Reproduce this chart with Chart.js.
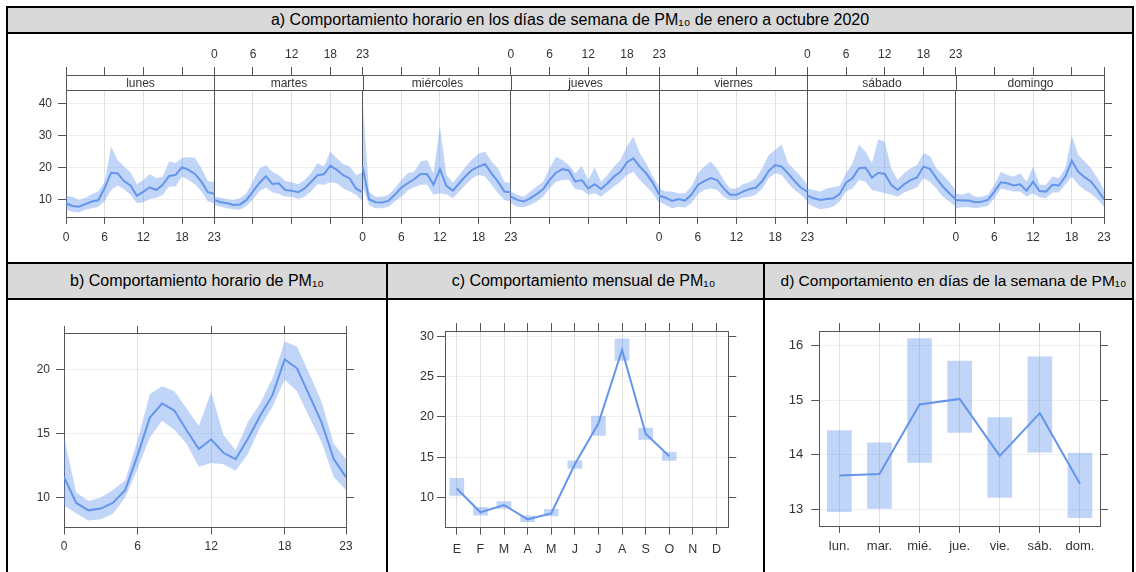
<!DOCTYPE html>
<html>
<head>
<meta charset="utf-8">
<script src="https://cdn.jsdelivr.net/npm/chart.js"></script>
<style>
  html, body { margin: 0; padding: 0; background: #fff; }
  body { width: 1136px; height: 572px; position: relative; overflow: hidden;
         font-family: "Liberation Sans", Arial, sans-serif; }
  .box { position: absolute; box-sizing: border-box; border: 2px solid #000; }
  .bar { background: #d9d9d9; display: flex; align-items: center; justify-content: center;
         font-size: 16px; color: #000; white-space: nowrap; }
  canvas { position: absolute; }
</style>
</head>
<body>
<div class="box bar" style="left:6px;top:6px;width:1128px;height:28px;">a) Comportamiento horario en los días de semana de PM₁₀ de enero a octubre 2020</div>
<div class="box" style="left:6px;top:32px;width:1128px;height:232px;"></div>
<div class="box bar" style="left:6px;top:262px;width:382px;height:38px;">b) Comportamiento horario de PM₁₀</div>
<div class="box bar" style="left:386px;top:262px;width:379px;height:38px;padding-left:16px;">c) Comportamiento mensual de PM₁₀</div>
<div class="box bar" style="left:763px;top:262px;width:371px;height:38px;padding-left:10px;font-size:15.5px;">d) Comportamiento en días de la semana de PM₁₀</div>
<div class="box" style="left:6px;top:298px;width:382px;height:290px;"></div>
<div class="box" style="left:386px;top:298px;width:379px;height:290px;"></div>
<div class="box" style="left:763px;top:298px;width:371px;height:290px;"></div>

<canvas id="cA" width="1124" height="227" style="left:8px;top:34px;"></canvas>
<canvas id="cB" width="378" height="272" style="left:8px;top:300px;"></canvas>
<canvas id="cC" width="374" height="272" style="left:388px;top:300px;"></canvas>
<canvas id="cD" width="367" height="272" style="left:765px;top:300px;"></canvas>

<script>
// a) hourly profile for each weekday (mean and confidence band)
const days = ['lunes', 'martes', 'miércoles', 'jueves', 'viernes', 'sábado', 'domingo'];
const weekMean = [
  [8.75, 7.9, 7.7, 8.5, 9.3, 9.7, 13.5, 18.3, 18.1, 15.7, 14.3, 11.1, 12.4, 13.75, 12.9, 14.5, 17.3, 17.6, 20.0, 19.2, 17.9, 15.5, 12.2, 11.7],
  [9.8, 9.1, 8.75, 8.2, 8.4, 9.8, 12.5, 15.1, 17.2, 14.8, 15.0, 12.9, 12.7, 12.2, 13.4, 15.4, 17.5, 17.8, 20.5, 19.2, 17.5, 16.5, 13.3, 12.2],
  [20.2, 10.0, 9.1, 9.0, 9.5, 11.4, 13.6, 15.0, 16.25, 17.9, 17.9, 14.5, 19.4, 14.2, 12.7, 15.0, 17.3, 19.2, 20.2, 21.0, 18.1, 15.5, 12.4, 12.2],
  [10.8, 9.8, 9.3, 10.3, 11.6, 13.1, 16.0, 18.3, 19.4, 19.0, 15.5, 16.0, 13.4, 14.7, 13.2, 15.0, 17.1, 18.6, 21.5, 22.8, 20.2, 18.1, 15.2, 11.4],
  [11.1, 10.5, 9.5, 10.1, 9.6, 11.4, 14.5, 15.7, 16.6, 16.0, 13.4, 11.4, 11.4, 12.4, 13.2, 13.6, 15.7, 18.9, 20.7, 20.2, 18.1, 15.7, 13.6, 12.4],
  [11.1, 10.3, 9.8, 10.1, 10.3, 11.6, 15.2, 16.6, 19.7, 19.9, 16.8, 18.3, 17.9, 14.5, 12.9, 14.7, 16.0, 16.8, 20.2, 19.5, 16.6, 14.0, 11.9, 10.0],
  [9.8, 9.6, 9.6, 9.1, 9.2, 9.8, 12.4, 15.3, 15.0, 14.3, 14.7, 12.7, 15.5, 12.6, 12.4, 14.5, 14.3, 17.1, 22.0, 18.6, 16.9, 15.5, 12.9, 10.0]
];
const weekUpper = [
  [11.1, 10.8, 9.8, 10.5, 11.6, 12.4, 15.5, 26.5, 22.3, 20.2, 18.4, 14.7, 16.0, 17.9, 16.6, 17.1, 21.8, 21.3, 23.0, 23.1, 23.0, 19.7, 15.7, 15.3],
  [10.8, 10.5, 10.0, 9.8, 10.3, 11.9, 15.8, 19.5, 20.7, 18.6, 17.6, 15.7, 15.3, 14.7, 16.0, 18.1, 21.25, 20.2, 24.9, 22.8, 21.0, 20.2, 17.6, 18.4],
  [41.0, 12.4, 10.8, 10.8, 11.4, 13.4, 16.0, 18.1, 18.6, 21.8, 22.3, 18.1, 32.7, 17.6, 15.2, 17.6, 20.2, 22.5, 24.2, 24.9, 21.8, 19.7, 15.5, 15.0],
  [12.4, 11.4, 10.8, 12.4, 14.0, 15.5, 19.7, 23.3, 22.3, 20.7, 18.1, 20.4, 16.0, 19.9, 15.5, 17.6, 20.2, 22.3, 26.5, 29.6, 24.4, 21.25, 17.1, 14.0],
  [13.4, 12.4, 12.4, 11.9, 11.9, 14.0, 18.1, 20.2, 21.8, 19.5, 16.0, 13.4, 13.4, 14.7, 15.3, 16.6, 19.7, 23.9, 25.4, 27.0, 21.25, 19.2, 17.1, 14.5],
  [13.4, 12.9, 12.4, 13.4, 13.75, 14.2, 18.3, 21.25, 27.0, 24.9, 21.25, 28.75, 28.0, 19.7, 16.0, 18.1, 19.7, 20.7, 24.4, 23.5, 19.7, 17.6, 15.5, 12.9],
  [11.9, 11.4, 12.1, 10.8, 10.8, 11.4, 14.5, 18.6, 17.6, 17.1, 18.1, 15.5, 20.2, 14.5, 14.5, 17.1, 16.6, 19.7, 29.8, 23.9, 21.8, 19.7, 16.6, 12.9]
];
const weekLower = [
  [6.7, 6.1, 5.9, 6.7, 7.2, 7.7, 9.5, 12.9, 14.3, 13.1, 11.4, 8.75, 9.1, 10.1, 10.5, 11.4, 14.0, 14.0, 17.1, 16.0, 14.7, 12.4, 9.3, 8.75],
  [8.2, 7.7, 7.2, 6.9, 6.7, 7.9, 10.0, 12.4, 13.7, 12.2, 11.7, 10.8, 10.8, 10.1, 10.8, 12.4, 14.7, 14.5, 15.3, 15.0, 13.4, 12.4, 11.4, 9.3],
  [14.0, 8.2, 7.2, 7.2, 7.7, 9.3, 10.8, 12.7, 13.75, 14.5, 14.5, 11.4, 11.9, 11.6, 10.3, 12.4, 14.5, 16.6, 17.6, 17.1, 14.5, 11.9, 9.8, 9.3],
  [8.75, 7.7, 7.5, 8.2, 9.3, 10.8, 13.4, 15.5, 16.0, 16.0, 13.1, 12.9, 11.4, 11.9, 10.8, 12.4, 14.0, 15.5, 17.6, 18.6, 16.0, 14.0, 11.9, 8.75],
  [9.3, 8.2, 7.2, 7.7, 7.4, 8.75, 11.6, 12.9, 13.4, 12.9, 10.8, 9.8, 9.8, 10.5, 10.8, 11.4, 13.4, 16.6, 18.1, 17.6, 15.0, 12.9, 11.4, 9.3],
  [8.75, 7.7, 6.9, 7.2, 7.7, 9.3, 12.4, 13.4, 16.0, 15.5, 12.9, 12.4, 11.9, 11.4, 10.8, 12.1, 12.9, 13.75, 16.6, 15.5, 13.4, 10.8, 9.3, 7.7],
  [7.2, 7.5, 7.5, 7.2, 7.5, 7.9, 10.3, 13.4, 12.9, 12.4, 12.4, 10.8, 11.9, 10.6, 10.3, 12.1, 12.1, 14.5, 17.1, 14.5, 12.9, 11.7, 10.0, 7.7]
];
const hourTicks = [0, 6, 12, 18, 23];
const weekYTicks = [10, 20, 30, 40];

// b) hourly profile
const hourMean  = [11.6, 9.58, 9.0, 9.14, 9.6, 10.6, 13.3, 16.25, 17.35, 16.8, 15.26, 13.8, 14.55, 13.5, 13.0, 14.6, 16.4, 18.0, 20.8, 20.1, 18.0, 15.9, 13.0, 11.6];
const hourUpper = [14.7, 10.4, 9.74, 10.0, 10.6, 11.35, 14.5, 18.1, 18.7, 18.3, 16.95, 15.6, 18.25, 14.9, 13.7, 15.9, 17.35, 19.3, 22.2, 21.8, 19.7, 17.5, 14.2, 13.0];
const hourLower = [9.4, 8.75, 8.2, 8.3, 8.75, 10.0, 12.3, 14.7, 16.0, 15.3, 14.2, 12.4, 12.7, 12.6, 12.1, 13.4, 15.5, 17.1, 19.2, 18.3, 16.3, 14.35, 11.6, 10.6];
const hourYTicks = [10, 15, 20];

// c) monthly
const months = ['E', 'F', 'M', 'A', 'M', 'J', 'J', 'A', 'S', 'O', 'N', 'D'];
const monthMean  = [11.1, 8.14, 9.05, 7.27, 8.0, 14.1, 19.2, 28.3, 17.9, 15.1, null, null];
const monthLower = [10.25, 7.8, 8.64, 6.98, 7.7, 13.6, 17.7, 27.0, 17.2, 14.6, null, null];
const monthUpper = [12.35, 8.76, 9.46, 7.7, 8.5, 14.55, 20.1, 29.7, 18.6, 15.6, null, null];
const monthYTicks = [10, 15, 20, 25, 30];

// d) day of week
const dayShort = ['lun.', 'mar.', 'mié.', 'jue.', 'vie.', 'sáb.', 'dom.'];
const dayMean  = [13.62, 13.65, 14.92, 15.02, 13.98, 14.76, 13.47];
const dayLower = [12.96, 13.02, 13.86, 14.41, 13.22, 14.05, 12.85];
const dayUpper = [14.44, 14.22, 16.12, 15.71, 14.68, 15.79, 14.03];
const dayYTicks = [13, 14, 15, 16];

const BLUE = '#6495ed';
const BAND = 'rgba(100,149,237,0.4)';
const AXIS = '#555';
const GRIDV = 'rgba(0,0,0,0.12)';
const GRIDH = 'rgba(0,0,0,0.06)';
const FONT = '"Liberation Sans", Arial, sans-serif';

Chart.defaults.font.family = FONT;
Chart.defaults.font.size = 12;
Chart.defaults.color = '#333';

const setTicks = vals => s => { s.ticks = vals.map(v => ({ value: v })); };

function yScales(min, max, vals, leftW, rightW, pad, size) {
  return {
    y: {
      type: 'linear', position: 'left', min: min, max: max,
      afterBuildTicks: setTicks(vals),
      afterFit: s => { s.width = leftW; },
      grid: { color: GRIDH, tickColor: AXIS, tickLength: 8 },
      border: { color: AXIS },
      ticks: { padding: pad, font: { size: size } }
    },
    y2: {
      type: 'linear', position: 'right', min: min, max: max,
      afterBuildTicks: setTicks(vals),
      afterFit: s => { s.width = rightW; },
      grid: { drawOnChartArea: false, tickColor: AXIS, tickLength: 8 },
      border: { color: AXIS },
      ticks: { callback: () => '' }
    }
  };
}

const baseOpts = {
  responsive: false,
  animation: false,
  layout: { padding: 0 },
  plugins: { legend: { display: false }, tooltip: { enabled: false } }
};

// ---------- a) ----------
const weekTicks = [];
days.forEach((d, i) => hourTicks.slice(0, 4).forEach(h => weekTicks.push(i * 23 + h)));
weekTicks.push(days.length * 23);

function bottomLabel(v) {
  const k = v / 23;
  if (Number.isInteger(k)) return k % 2 === 0 ? (k < 7 ? '0' : '') : '23';
  const d = Math.floor(k);
  return d % 2 === 0 ? String(v - d * 23) : '';
}
function topLabel(v) {
  const k = v / 23;
  if (Number.isInteger(k)) {
    if (k % 2 === 1 && k < 7) return '0';
    if (k % 2 === 0 && k > 0) return '23';
    return '';
  }
  const d = Math.floor(k);
  return d % 2 === 1 ? String(v - d * 23) : '';
}

const weekSets = [];
days.forEach((name, d) => {
  const pts = arr => arr.map((v, h) => ({ x: d * 23 + h, y: v }));
  weekSets.push({ data: pts(weekLower[d]), borderWidth: 0, pointRadius: 0, fill: false });
  weekSets.push({ data: pts(weekUpper[d]), borderWidth: 0, pointRadius: 0, fill: '-1', backgroundColor: BAND });
  weekSets.push({ data: pts(weekMean[d]), borderColor: BLUE, borderWidth: 2, pointRadius: 0, fill: false });
});

const stripPlugin = {
  id: 'strips',
  afterDraw(chart) {
    const { ctx, chartArea: a } = chart;
    const x = chart.scales.x;
    const h = 15;
    ctx.save();
    ctx.font = '12px ' + FONT;
    ctx.textAlign = 'center';
    ctx.textBaseline = 'middle';
    ctx.lineWidth = 1;
    days.forEach((name, d) => {
      const x0 = Math.round(x.getPixelForValue(d * 23)) + 0.5;
      const x1 = Math.round(x.getPixelForValue(d * 23 + 23)) + 0.5;
      const y0 = Math.round(a.top) + 0.5;
      ctx.fillStyle = '#fff';
      ctx.fillRect(x0, y0, x1 - x0, h);
      ctx.strokeStyle = AXIS;
      ctx.strokeRect(x0, y0, x1 - x0, h);
      ctx.fillStyle = '#333';
      ctx.fillText(name, (x0 + x1) / 2, y0 + h / 2 + 0.5);
    });
    ctx.restore();
  }
};

new Chart(document.getElementById('cA'), {
  type: 'line',
  data: { datasets: weekSets },
  options: Object.assign({}, baseOpts, {
    scales: Object.assign({
      x: {
        type: 'linear', position: 'bottom', min: 0, max: 161,
        afterBuildTicks: setTicks(weekTicks),
        afterFit: s => { s.height = 44; },
        grid: { color: c => (c.tick && c.tick.value % 23 === 0) ? AXIS : GRIDV, tickColor: AXIS, tickLength: 7 },
        border: { color: AXIS },
        ticks: { autoSkip: false, maxRotation: 0, padding: 6, callback: v => bottomLabel(v) }
      },
      x2: {
        type: 'linear', position: 'top', min: 0, max: 161,
        afterBuildTicks: setTicks(weekTicks),
        afterFit: s => { s.height = 41; },
        grid: { drawOnChartArea: false, tickColor: AXIS, tickLength: 8 },
        border: { color: AXIS },
        ticks: { autoSkip: false, maxRotation: 0, padding: 5, callback: v => topLabel(v) }
      }
    }, yScales(4.47, 48.8, weekYTicks, 58, 28, 6, 12))
  }),
  plugins: [stripPlugin]
});

// ---------- b) ----------
const hourPts = arr => arr.map((v, h) => ({ x: h, y: v }));
new Chart(document.getElementById('cB'), {
  type: 'line',
  data: {
    datasets: [
      { data: hourPts(hourLower), borderWidth: 0, pointRadius: 0, fill: false },
      { data: hourPts(hourUpper), borderWidth: 0, pointRadius: 0, fill: '-1', backgroundColor: BAND },
      { data: hourPts(hourMean), borderColor: BLUE, borderWidth: 2, pointRadius: 0, fill: false }
    ]
  },
  options: Object.assign({}, baseOpts, {
    scales: Object.assign({
      x: {
        type: 'linear', position: 'bottom', min: 0, max: 23,
        afterBuildTicks: setTicks(hourTicks),
        afterFit: s => { s.height = 44.5; },
        grid: { color: GRIDV, tickColor: AXIS, tickLength: 7 },
        border: { color: AXIS },
        ticks: { autoSkip: false, maxRotation: 0, padding: 5 }
      },
      x2: {
        type: 'linear', position: 'top', min: 0, max: 23,
        afterBuildTicks: setTicks(hourTicks),
        afterFit: s => { s.height = 33; },
        grid: { drawOnChartArea: false, tickColor: AXIS, tickLength: 7 },
        border: { color: AXIS },
        ticks: { callback: () => '' }
      }
    }, yScales(7.66, 22.86, hourYTicks, 56, 40, 6, 12))
  })
});

// ---------- c) and d) ----------
function catChart(id, labels, lower, upper, mean, yMin, yMax, yVals, sizes) {
  new Chart(document.getElementById(id), {
    type: 'bar',
    data: {
      labels: labels,
      datasets: [
        { type: 'line', data: mean, borderColor: BLUE, borderWidth: 2, pointRadius: 0, fill: false, order: 0 },
        { type: 'bar', data: lower.map((v, i) => v === null ? null : [v, upper[i]]),
          backgroundColor: BAND, borderWidth: 0, barThickness: sizes.bar, order: 1 }
      ]
    },
    options: Object.assign({}, baseOpts, {
      scales: Object.assign({
        x: {
          type: 'category', position: 'bottom', offset: true,
          afterFit: s => { s.height = sizes.bottom; },
          grid: { offset: false, color: GRIDV, tickColor: AXIS, tickLength: 7 },
          border: { color: AXIS },
          ticks: { autoSkip: false, maxRotation: 0, padding: sizes.xpad, font: { size: sizes.font } }
        },
        x2: {
          type: 'category', position: 'top', offset: true,
          afterFit: s => { s.height = sizes.top; },
          grid: { offset: false, drawOnChartArea: false, tickColor: AXIS, tickLength: 8 },
          border: { color: AXIS },
          ticks: { callback: () => '' }
        }
      }, yScales(yMin, yMax, yVals, sizes.left, sizes.right, sizes.ypad, sizes.font))
    })
  });
}

catChart('cC', months, monthLower, monthUpper, monthMean, 6.23, 30.66, monthYTicks,
  { bar: 14, bottom: 44.3, top: 31, left: 57, right: 33.7, xpad: 7, ypad: 3, font: 12.5 });
catChart('cD', dayShort, dayLower, dayUpper, dayMean, 12.7, 16.26, dayYTicks,
  { bar: 24, bottom: 46, top: 31, left: 54.3, right: 32, xpad: 6, ypad: 8, font: 13 });
</script>
</body>
</html>
